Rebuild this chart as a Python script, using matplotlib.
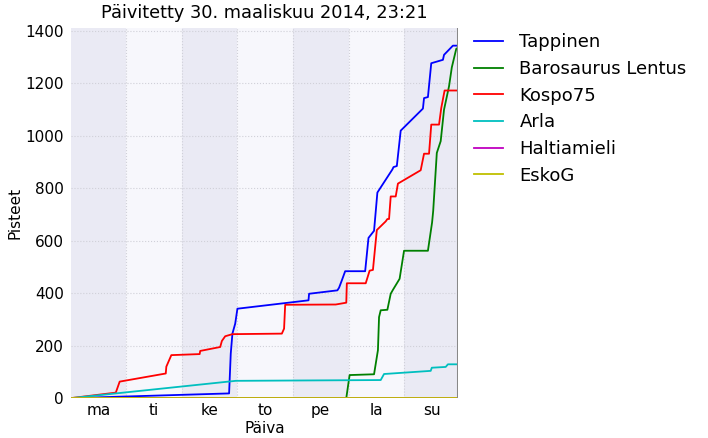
#!python
# -*- coding: utf-8 -*-
import numpy as np
import matplotlib
matplotlib.use("Agg")
import matplotlib.pyplot as plt
from matplotlib.ticker import FixedLocator

days = ["ma", "ti", "ke", "to", "pe", "la", "su"]
now = 6 + (23 + 21 / 60.0) / 24.0  # sunnuntai 23:21

# time in days since monday 00:00, points
tappinen_t = [0, 2.85, 2.88, 2.91, 2.96, 3.00, 4.28, 4.29, 4.80, 4.83, 4.88, 4.94,
              5.30, 5.36, 5.46, 5.52, 5.79, 5.81, 5.87, 5.94, 6.34, 6.36, 6.43,
              6.49, 6.70, 6.72, 6.88, now]
tappinen_p = [0, 18, 170, 246, 284, 341, 373, 398, 411, 421, 449, 484,
              484, 611, 638, 784, 872, 881, 885, 1020, 1104, 1144, 1148,
              1277, 1290, 1309, 1344, 1344]

baro_t = [0, 4.96, 5.02, 5.46, 5.53, 5.55, 5.58, 5.70, 5.76, 5.80, 5.92, 6.00,
          6.43, 6.505, 6.525, 6.59, 6.66, 6.72, 6.81, 6.86, 6.94, now]
baro_p = [0, 0, 88, 91, 183, 309, 335, 337, 398, 413, 455, 562,
          562, 670, 714, 935, 980, 1100, 1189, 1261, 1332, 1336]

kospo_t = [0, 0.81, 0.88, 1.71, 1.72, 1.81, 2.32, 2.33, 2.69, 2.72, 2.78, 2.91,
           3.80, 3.84, 3.86, 4.77, 4.96, 4.97, 5.31, 5.38, 5.44, 5.51, 5.67,
           5.70, 5.73, 5.76, 5.85, 5.89, 6.30, 6.36, 6.45, 6.49, 6.63, 6.67,
           6.73, now]
kospo_p = [0, 21, 63, 94, 120, 164, 168, 180, 195, 218, 236, 244,
           246, 265, 356, 357, 364, 438, 438, 486, 489, 641, 674,
           683, 683, 769, 769, 818, 869, 932, 932, 1043, 1043, 1106,
           1173, 1173]

arla_t = [0, 2.97, 5.58, 5.64, 6.48, 6.50, 6.75, 6.79, now]
arla_p = [0, 66, 69, 92, 104, 116, 119, 129, 129]

halti_t = [0, now]
halti_p = [0, 0]

esko_t = [0, now]
esko_p = [0, 0]

series = [("Tappinen", tappinen_t, tappinen_p, "b"),
          ("Barosaurus Lentus", baro_t, baro_p, "g"),
          ("Kospo75", kospo_t, kospo_p, "r"),
          ("Arla", arla_t, arla_p, "c"),
          ("Haltiamieli", halti_t, halti_p, "m"),
          ("EskoG", esko_t, esko_p, "y")]


def main():
    fig = plt.figure(figsize=(7.08, 4.38), dpi=100)
    ax = fig.add_axes([0.100, 0.091, 0.547, 0.845])

    # day bands
    for i in range(len(days)):
        col = "#eaeaf4" if i % 2 == 0 else "#f7f7fc"
        ax.axvspan(i, i + 1, color=col, lw=0, zorder=0)

    for name, t, p, c in series:
        ax.plot(t, p, color=c, lw=1.3, label=name, zorder=3)

    ax.axvline(now, color="#888888", lw=2.2, zorder=4)

    top = max(max(s[2]) for s in series) * 1.05
    ax.set_xlim(0, now)
    ax.set_ylim(0, top)

    ax.xaxis.set_major_locator(FixedLocator(np.arange(len(days)) + 0.5))
    ax.set_xticklabels(days)
    ax.xaxis.set_minor_locator(FixedLocator(np.arange(1, len(days))))
    ax.set_yticks(np.arange(0, 1401, 200))
    ax.tick_params(which="both", length=0, labelsize=11)
    ax.tick_params(axis="y", pad=5)
    ax.grid(True, which="minor", axis="x", ls=":", color="#d0d0d8", lw=0.8)
    ax.grid(True, which="major", axis="y", ls=":", color="#d0d0d8", lw=0.8)
    ax.set_axisbelow(False)
    for s in ax.spines.values():
        s.set_visible(False)

    ax.set_title("Päivitetty 30. maaliskuu 2014, 23:21", fontsize=12.8, pad=7)
    ax.set_xlabel("Päiva", fontsize=11, labelpad=2)
    ax.set_ylabel("Pisteet", fontsize=11, labelpad=2)

    ax.legend(loc="upper left", bbox_to_anchor=(1.0, 1.03), frameon=False,
              fontsize=13, handlelength=1.6, handletextpad=0.9,
              labelspacing=0.48)

    fig.savefig("out.png", dpi=100)


if __name__ == '__main__':
    main()
